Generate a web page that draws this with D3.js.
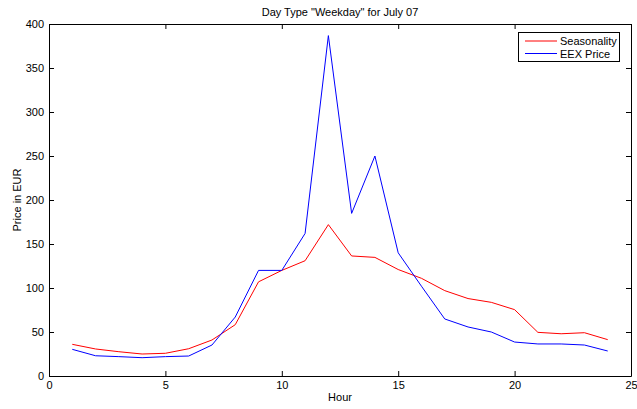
<!DOCTYPE html>
<html>
<head>
<meta charset="utf-8">
<script src="https://cdn.jsdelivr.net/npm/d3@7"></script>
<style>
  html, body { margin: 0; padding: 0; background: #fff; }
  svg { display: block; font-family: "Liberation Sans", Arial, sans-serif; }
</style>
</head>
<body>
<svg id="chart" width="637" height="409"></svg>
<script>
// Hourly price profile for weekdays, July 07
const hours = d3.range(1, 25);
const seasonality = [36, 30.7, 27.6, 25, 25.8, 31, 40.9, 58.3, 107, 120, 131, 172,
                     136.4, 134.8, 121, 111, 97, 88, 83.7, 75.4, 49.6, 48, 49.2, 41.3];
const eexPrice = [30.3, 23, 22, 20.8, 22, 22.7, 35.2, 67, 120, 120, 162, 386.8,
                  184.8, 250, 140, 102, 64.8, 55.7, 50, 38.6, 36.4, 36.4, 35.2, 28.4];
const xTicks = [0, 5, 10, 15, 20, 25];
const yTicks = [0, 50, 100, 150, 200, 250, 300, 350, 400];
const seriesNames = ["Seasonality", "EEX Price"];
const seriesColors = ["#ff0000", "#0000ff"];

const svg = d3.select("#chart");
const plotLeft = 49, plotRight = 631, plotTop = 24, plotBottom = 376;

const x = d3.scaleLinear().domain([0, 25]).range([plotLeft, plotRight]);
const y = d3.scaleLinear().domain([0, 400]).range([plotBottom, plotTop]);

// Axes with inward ticks on all four sides (box style)
const tickLen = 5;
svg.append("g").attr("transform", `translate(0,${plotBottom})`)
  .call(d3.axisBottom(x).tickValues(xTicks).tickSizeInner(-tickLen).tickSizeOuter(0).tickPadding(5));
svg.append("g").attr("transform", `translate(0,${plotTop})`)
  .call(d3.axisTop(x).tickValues(xTicks).tickSizeInner(-tickLen).tickSizeOuter(0).tickFormat(""));
svg.append("g").attr("transform", `translate(${plotLeft},0)`)
  .call(d3.axisLeft(y).tickValues(yTicks).tickSizeInner(-tickLen).tickSizeOuter(0).tickPadding(5));
svg.append("g").attr("transform", `translate(${plotRight},0)`)
  .call(d3.axisRight(y).tickValues(yTicks).tickSizeInner(-tickLen).tickSizeOuter(0).tickFormat(""));

svg.selectAll(".domain").attr("stroke", "#000").attr("stroke-width", 1);
svg.selectAll(".tick line").attr("stroke", "#000");
svg.selectAll(".tick text").attr("font-size", 11).attr("fill", "#000")
  .attr("font-family", "Liberation Sans, Arial, sans-serif");

// Series lines
const line = d3.line().x((d, i) => x(hours[i])).y(d => y(d));
[seasonality, eexPrice].forEach((vals, k) => {
  svg.append("path").datum(vals)
    .attr("fill", "none")
    .attr("stroke", seriesColors[k])
    .attr("stroke-width", 1)
    .attr("d", line);
});

// Title and axis labels
svg.append("text").attr("x", (plotLeft + plotRight) / 2).attr("y", 16)
  .attr("text-anchor", "middle").attr("font-size", 11)
  .text('Day Type "Weekday" for July 07');
svg.append("text").attr("x", (plotLeft + plotRight) / 2).attr("y", 401)
  .attr("text-anchor", "middle").attr("font-size", 11).text("Hour");
svg.append("text").attr("transform", `translate(21,${(plotTop + plotBottom) / 2}) rotate(-90)`)
  .attr("text-anchor", "middle").attr("font-size", 11).text("Price in EUR");

// Legend
const lg = svg.append("g");
lg.append("rect").attr("x", 518.5).attr("y", 32.5).attr("width", 101).attr("height", 29)
  .attr("fill", "#fff").attr("stroke", "#000").attr("stroke-width", 1);
seriesNames.forEach((name, k) => {
  const yy = 41 + k * 12.5;
  lg.append("line").attr("x1", 525).attr("x2", 557).attr("y1", yy).attr("y2", yy)
    .attr("stroke", seriesColors[k]).attr("stroke-width", 1);
  lg.append("text").attr("x", 560).attr("y", yy + 4).attr("font-size", 11).text(name);
});
</script>
</body>
</html>
